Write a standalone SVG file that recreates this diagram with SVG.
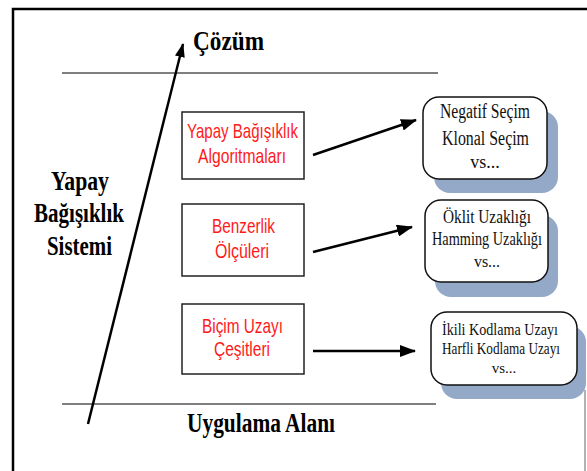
<svg xmlns="http://www.w3.org/2000/svg" width="587" height="471" viewBox="0 0 587 471">
<style>
.title{font-family:"Liberation Serif","Times New Roman",serif;font-weight:bold;fill:#000;}
.red{font-family:"Liberation Sans",Arial,sans-serif;fill:#ff1a1a;font-size:21px;}
.item{font-family:"Liberation Serif","Times New Roman",serif;fill:#111;}
.box{fill:#fff;stroke:#222;stroke-width:1.5;}
.rb{fill:#fff;stroke:#111;stroke-width:1.5;}
.shadow{fill:#94a9c7;}
.conn{stroke:#000;stroke-width:2.5;fill:none;}
</style>
<defs>
<marker id="ah" markerUnits="userSpaceOnUse" markerWidth="16" markerHeight="12" refX="15" refY="6" orient="auto">
<path d="M0,0 L16,6 L0,12 Z" fill="#000"/>
</marker>
<marker id="ah2" markerUnits="userSpaceOnUse" markerWidth="14" markerHeight="10" refX="13" refY="5" orient="auto">
<path d="M0,0 L14,5 L0,10 Z" fill="#000"/>
</marker>
</defs>
<rect width="587" height="471" fill="#fff"/>
<g id="frame">
<path d="M13,471 L13,9 L587,9" fill="none" stroke="#000" stroke-width="2.5"/>
<line x1="585" y1="390" x2="585" y2="471" stroke="#999" stroke-width="1.5"/>
<line x1="62" y1="73" x2="438" y2="73" stroke="#000" stroke-width="1.2"/>
<line x1="62" y1="404" x2="436" y2="404" stroke="#000" stroke-width="1.2"/>
</g>
<g id="labels">
<text class="title" x="193" y="50" font-size="27" textLength="71" lengthAdjust="spacingAndGlyphs">Çözüm</text>
<text class="title" x="187" y="432" font-size="27" textLength="148" lengthAdjust="spacingAndGlyphs">Uygulama Alanı</text>
<text class="title" x="51" y="190" font-size="27" textLength="58" lengthAdjust="spacingAndGlyphs">Yapay</text>
<text class="title" x="34" y="222" font-size="27" textLength="90" lengthAdjust="spacingAndGlyphs">Bağışıklık</text>
<text class="title" x="47" y="255" font-size="27" textLength="65" lengthAdjust="spacingAndGlyphs">Sistemi</text>
</g>
<g id="node-algoritmalar">
<rect class="box" x="182" y="112" width="122" height="67"/>
<text class="red" x="187" y="138" textLength="111" lengthAdjust="spacingAndGlyphs">Yapay Bağışıklık</text>
<text class="red" x="198" y="163" textLength="88" lengthAdjust="spacingAndGlyphs">Algoritmaları</text>
</g>
<g id="node-benzerlik">
<rect class="box" x="182" y="204" width="122" height="72"/>
<text class="red" x="212" y="233" textLength="63" lengthAdjust="spacingAndGlyphs">Benzerlik</text>
<text class="red" x="215" y="258" textLength="54" lengthAdjust="spacingAndGlyphs">Ölçüleri</text>
</g>
<g id="node-bicim">
<rect class="box" x="182" y="304" width="122" height="70"/>
<text class="red" x="202" y="333" textLength="81" lengthAdjust="spacingAndGlyphs">Biçim Uzayı</text>
<text class="red" x="214" y="356" textLength="56" lengthAdjust="spacingAndGlyphs">Çeşitleri</text>
</g>
<g id="node-secim">
<rect class="shadow" x="434" y="111" width="124" height="82" rx="16"/>
<rect class="rb" x="423" y="97" width="124" height="82" rx="16"/>
<text class="item" x="440" y="118" font-size="20" textLength="90" lengthAdjust="spacingAndGlyphs">Negatif Seçim</text>
<text class="item" x="442" y="145" font-size="20" textLength="87" lengthAdjust="spacingAndGlyphs">Klonal Seçim</text>
<text class="item" x="485" y="168" font-size="18" text-anchor="middle">vs...</text>
</g>
<g id="node-uzaklik">
<rect class="shadow" x="435" y="215" width="123" height="82" rx="16"/>
<rect class="rb" x="425" y="200" width="123" height="82" rx="16"/>
<text class="item" x="443" y="223" font-size="18" textLength="88" lengthAdjust="spacingAndGlyphs">Öklit Uzaklığı</text>
<text class="item" x="432" y="245" font-size="18" textLength="110" lengthAdjust="spacingAndGlyphs">Hamming Uzaklığı</text>
<text class="item" x="487" y="267" font-size="16" text-anchor="middle">vs...</text>
</g>
<g id="node-kodlama">
<rect class="shadow" x="441" y="326" width="145" height="73" rx="16"/>
<rect class="rb" x="431" y="312" width="146" height="73" rx="16"/>
<text class="item" x="442" y="335" font-size="16" textLength="116" lengthAdjust="spacingAndGlyphs">İkili Kodlama Uzayı</text>
<text class="item" x="442" y="354" font-size="16" textLength="118" lengthAdjust="spacingAndGlyphs">Harfli Kodlama Uzayı</text>
<text class="item" x="504" y="373" font-size="15" text-anchor="middle">vs...</text>
</g>
<g id="connectors">
<line class="conn" x1="88" y1="424" x2="183" y2="44" stroke-width="2" marker-end="url(#ah2)"/>
<line class="conn" x1="313" y1="155" x2="416" y2="120" marker-end="url(#ah)"/>
<line class="conn" x1="313" y1="252" x2="412" y2="227" marker-end="url(#ah)"/>
<line class="conn" x1="313" y1="351" x2="415" y2="351" marker-end="url(#ah)"/>
</g>
</svg>
